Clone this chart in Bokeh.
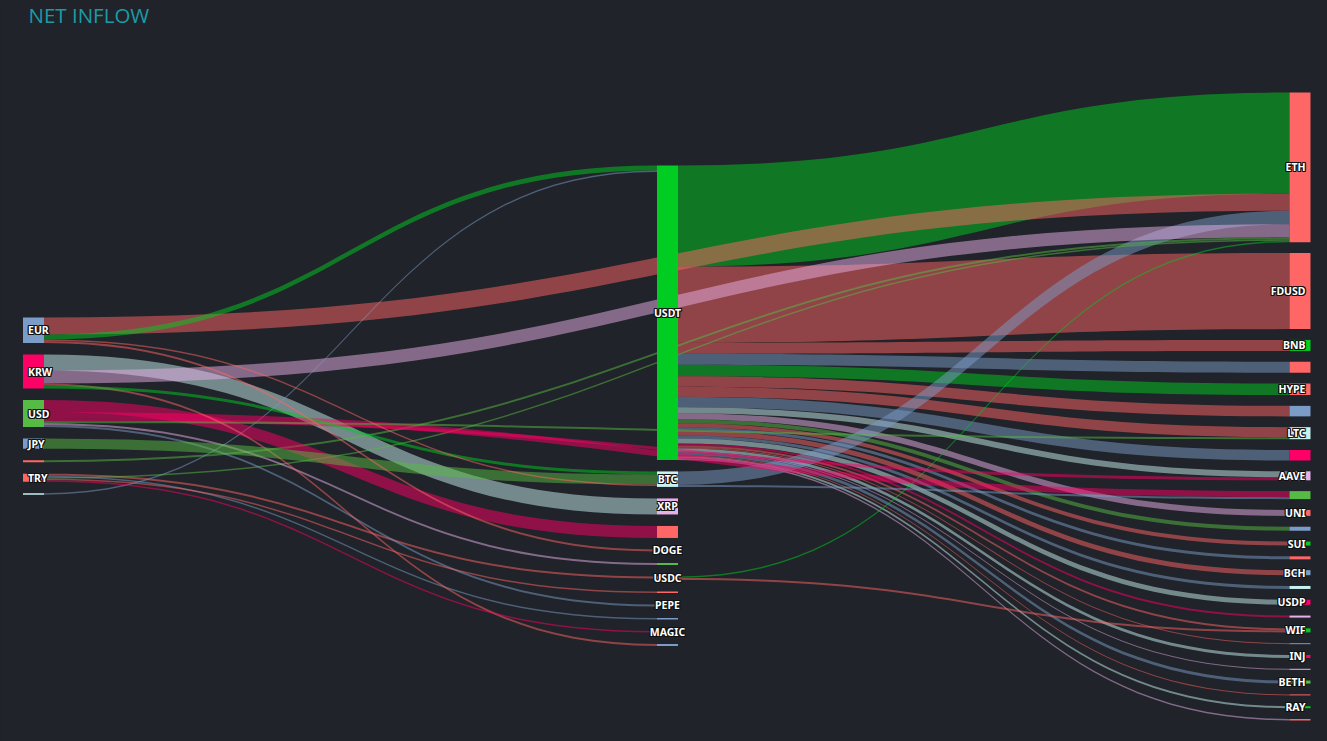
from bokeh.plotting import figure
from bokeh.models import Range1d, ColumnDataSource
from bokeh.embed import file_html
from bokeh.resources import INLINE
from bokeh.core.properties import value

# ---------------- data ----------------
TITLE = "NET INFLOW"

RED = "#ff6666"
GRN = "#00cc22"
BLU = "#7c9cc8"
CYN = "#c8f0f0"
MAG = "#ff0066"
PNK = "#e8b0e8"
LGR = "#55bb44"

left_nodes = ["EUR", "KRW", "USD", "JPY", "L5", "TRY", "L7"]
left_labels = ["EUR", "KRW", "USD", "JPY", "", "TRY", ""]
left_colors = [BLU, MAG, LGR, BLU, RED, RED, CYN]

mid_nodes = ["USDT", "BTC", "XRP", "M1", "DOGE", "M2", "USDC", "M3", "PEPE", "M4", "MAGIC", "M5"]
mid_labels = ["USDT", "BTC", "XRP", "", "DOGE", "", "USDC", "", "PEPE", "", "MAGIC", ""]
mid_colors = [GRN, CYN, PNK, RED, PNK, LGR, CYN, RED, GRN, BLU, MAG, BLU]

right_nodes = ["ETH", "FDUSD", "BNB", "R1", "HYPE", "R2", "LTC", "R3", "AAVE", "R4", "UNI", "R5", "SUI",
               "R6", "BCH", "R7", "USDP", "R8", "WIF", "R9", "INJ", "R10", "BETH", "R11", "RAY", "R12"]
right_labels = ["ETH", "FDUSD", "BNB", "", "HYPE", "", "LTC", "", "AAVE", "", "UNI", "", "SUI",
                "", "BCH", "", "USDP", "", "WIF", "", "INJ", "", "BETH", "", "RAY", ""]
right_colors = [RED, RED, GRN, RED, RED, BLU, CYN, MAG, PNK, LGR, RED, BLU, GRN,
                RED, BLU, CYN, MAG, PNK, GRN, BLU, MAG, PNK, LGR, RED, GRN, RED]

link_src = ["USDT", "EUR", "KRW", "BTC", "KRW", "L5", "TRY", "TRY", "TRY", "USDC",
            "EUR", "L7",
            "USDT", "USDT", "USDT", "USDT", "USDT", "USDT", "USDT", "USDT", "USDT", "USDT",
            "USDT", "USDT", "USDT", "USDT", "USDT", "USDT", "USDT", "USDT", "USDT", "USDT",
            "USDT", "USDT", "USDT", "USDT",
            "USD", "USD", "USD", "USD", "USD", "USD",
            "KRW", "KRW", "JPY", "EUR", "EUR", "BTC", "TRY", "TRY", "USDC"]
link_tgt = ["ETH", "ETH", "XRP", "ETH", "ETH", "ETH", "USDC", "M4", "ETH", "ETH",
            "USDT", "USDT",
            "FDUSD", "BNB", "R1", "HYPE", "R2", "LTC", "R3", "AAVE", "UNI", "R5",
            "SUI", "R6", "BCH", "R7", "USDP", "R8", "WIF", "R9", "INJ", "R10",
            "BETH", "R11", "RAY", "R12",
            "M1", "R4", "AAVE", "LTC", "M2", "PEPE",
            "M5", "BTC", "BTC", "BTC", "DOGE", "R4", "M3", "MAGIC", "WIF"]
link_val = [101, 17, 16, 13.5, 13, 2, 2, 1.5, 1.5, 1.5,
            5, 1.5,
            76, 11, 11, 11.5, 10.5, 10, 10.5, 6, 6, 4,
            4, 3, 5, 3, 5, 2, 2, 1, 3, 1,
            3, 1, 2, 1.5,
            12, 6, 3, 2, 2, 2,
            2, 3, 10, 1.5, 2, 2, 1.5, 1.5, 2]
link_col = [GRN, RED, CYN, BLU, PNK, LGR, RED, BLU, LGR, GRN,
            GRN, BLU,
            RED, RED, BLU, GRN, RED, RED, BLU, CYN, PNK, LGR,
            RED, BLU, RED, BLU, CYN, MAG, RED, RED, CYN, PNK,
            BLU, RED, CYN, PNK,
            MAG, MAG, MAG, LGR, PNK, BLU,
            RED, GRN, LGR, RED, RED, BLU, RED, MAG, RED]

# ---------------- layout ----------------
BG = "#202329"
W, H = 1327, 741
COL_X = [22.5, 656.5, 1289.0]
COL_TOP = [317.0, 165.0, 92.0]
COL_GAP = [11.5, 11.5, 10.8]
Y_BOTTOM = 720.0
NODE_W = 21.0

columns = [left_nodes, mid_nodes, right_nodes]
col_labels = [left_labels, mid_labels, right_labels]
col_colors = [left_colors, mid_colors, right_colors]

inflow, outflow = {}, {}
for s, t, v in zip(link_src, link_tgt, link_val):
    outflow[s] = outflow.get(s, 0) + v
    inflow[t] = inflow.get(t, 0) + v
node_val = {n: max(inflow.get(n, 0), outflow.get(n, 0)) for col in columns for n in col}

ky = (Y_BOTTOM - COL_TOP[2] - COL_GAP[2] * (len(right_nodes) - 1)) / sum(node_val[n] for n in right_nodes)

node_x, node_y, node_h = {}, {}, {}
for ci, col in enumerate(columns):
    y = COL_TOP[ci]
    for n in col:
        node_x[n] = COL_X[ci]
        node_y[n] = y
        node_h[n] = node_val[n] * ky
        y += node_h[n] + COL_GAP[ci]

p = figure(width=W, height=H, output_backend="svg", toolbar_location=None,
           x_range=Range1d(0, W), y_range=Range1d(H, 0),
           background_fill_color=BG, border_fill_color=BG, min_border=0,
           outline_line_color=None)
p.axis.visible = False
p.grid.visible = False

# links
out_off = {n: 0.0 for n in node_val}
in_off = {n: 0.0 for n in node_val}
geo = []
for s, t, v, c in zip(link_src, link_tgt, link_val, link_col):
    w = v * ky
    x0 = node_x[s] + NODE_W
    y0 = node_y[s] + out_off[s]
    x1 = node_x[t]
    y1 = node_y[t] + in_off[t]
    out_off[s] += w
    in_off[t] += w
    geo.append((s, x0, y0, x1, y1, w, c))

order = [g for g in geo if g[0] == "USDT"] + [g for g in geo if g[0] != "USDT"]
xs_all, ys_all, cols = [], [], []
N = 40
for s, x0, y0, x1, y1, w, c in order:
    cx = (x0 + x1) / 2.0
    tx, ty = [], []
    for i in range(N + 1):
        t = i / N
        a, b, cc, d = (1 - t) ** 3, 3 * (1 - t) ** 2 * t, 3 * (1 - t) * t ** 2, t ** 3
        tx.append(a * x0 + (b + cc) * cx + d * x1)
        ty.append((a + b) * y0 + (cc + d) * y1)
    xs_all.append(tx + tx[::-1])
    ys_all.append(ty + [yy + w for yy in ty[::-1]])
    cols.append(c)

p.patches(xs="xs", ys="ys", fill_color="c", fill_alpha=0.5, line_color=None,
          source=ColumnDataSource(dict(xs=xs_all, ys=ys_all, c=cols)))

# nodes
qd = dict(l=[], r=[], t=[], b=[], c=[])
for ci, col in enumerate(columns):
    for n, c in zip(col, col_colors[ci]):
        qd["l"].append(node_x[n])
        qd["r"].append(node_x[n] + NODE_W)
        qd["t"].append(node_y[n])
        qd["b"].append(node_y[n] + max(node_h[n], 1.0))
        qd["c"].append(c)
p.quad(left="l", right="r", top="t", bottom="b", fill_color="c", line_color=None,
       source=ColumnDataSource(qd))

# labels (white text with a thin dark outline)
aligns = ["left", "center", "right"]
lab_src = []
for ci, col in enumerate(columns):
    lx, ly, lt = [], [], []
    for n, lab in zip(col, col_labels[ci]):
        if not lab:
            continue
        if ci == 0:
            lx.append(node_x[n] + 5)
        elif ci == 1:
            lx.append(node_x[n] + NODE_W / 2)
        else:
            lx.append(node_x[n] + NODE_W - 5)
        ly.append(node_y[n] + node_h[n] / 2)
        lt.append(lab)
    lab_src.append((ColumnDataSource(dict(x=lx, y=ly, t=lt)), aligns[ci]))

font_kw = dict(text_font=value("Noto Sans"), text_font_size="10.5px", text_font_style="bold",
               text_baseline="middle")
offsets = [(-1, 0), (1, 0), (0, -1), (0, 1), (-1, -1), (1, -1), (-1, 1), (1, 1)]
for src, al in lab_src:
    for dx, dy in offsets:
        p.text(x="x", y="y", text="t", source=src, x_offset=dx, y_offset=dy,
               text_color="#111111", text_align=al, **font_kw)
    p.text(x="x", y="y", text="t", source=src, text_color="#ffffff", text_align=al, **font_kw)

p.text(x=[28], y=[14.5], text=[TITLE], text_font=value("Open Sans"), text_font_size="20.5px",
       text_color="#1b9ba6", text_align="left", text_baseline="alphabetic")

html = file_html(p, INLINE)
html = html.replace("</head>", "<style>html,body{background:#202329;}</style></head>", 1)
open("out.html", "w").write(html)
